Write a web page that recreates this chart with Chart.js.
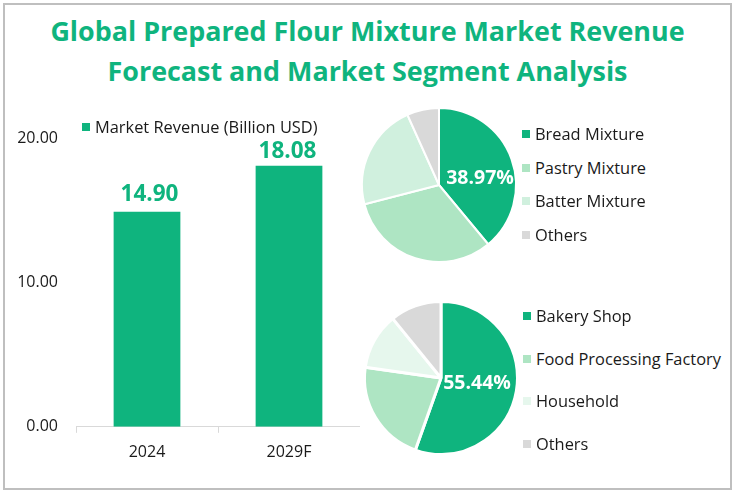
<!DOCTYPE html>
<html>
<head>
<meta charset="utf-8">
<script src="https://cdn.jsdelivr.net/npm/chart.js@4"></script>
<style>
  html, body { margin: 0; padding: 0; background: #fff; }
  #frame { position: absolute; left: 3px; top: 3px; width: 725px; height: 483px; border: 2px solid #bfbfbf; }
  #title { position: absolute; left: 0; top: 11px; width: 735px; text-align: center; color: #0fb47e;
    font: bold 26.9px/40px "Open Sans", sans-serif; }
  canvas { position: absolute; }
  .key { position: absolute; font: 16.4px/20px "Open Sans", sans-serif; color: #1a1a1a; white-space: nowrap; }
  .key i { position: absolute; left: -13px; top: 6px; width: 8px; height: 8px; }
</style>
</head>
<body>
<div id="frame"></div>
<div id="title">Global Prepared Flour Mixture Market Revenue<br>Forecast and Market Segment Analysis</div>
<canvas id="bar-chart" style="left:0;top:100px"></canvas>
<canvas id="pie-top" style="left:355px;top:101px"></canvas>
<canvas id="pie-bottom" style="left:357px;top:294px"></canvas>
<script>
const years = ['2024', '2029F']
const revenue = [14.90, 18.08]
const yTicks = [0, 10, 20]

const typeLabels = ['Bread Mixture', 'Pastry Mixture', 'Batter Mixture', 'Others']
const typeShares = [38.97, 32.0, 22.3, 6.73]
const typeColors = ['#0fb47e', '#aee5c3', '#d0f0de', '#d9d9d9']

const channelLabels = ['Bakery Shop', 'Food Processing Factory', 'Household', 'Others']
const channelShares = [55.44, 21.8, 11.9, 10.86]
const channelColors = ['#0fb47e', '#aee5c3', '#e6f7ed', '#d9d9d9']

const green = '#0fb47e'
const fontName = '"Open Sans", sans-serif'

// value labels above the bars
const barLabels = {
  id: 'barLabels',
  afterDatasetsDraw(chart) {
    const ctx = chart.ctx
    const nudgeX = [2.5, -1.5]
    const lift = [11, 8]
    ctx.save()
    ctx.font = 'bold 22.5px ' + fontName
    ctx.fillStyle = green
    ctx.textAlign = 'center'
    chart.getDatasetMeta(0).data.forEach((bar, i) => {
      ctx.fillText(revenue[i].toFixed(2), bar.x + nudgeX[i], bar.y - lift[i])
    })
    ctx.restore()
  }
}

// only the biggest slice carries a label
const sliceLabel = {
  id: 'sliceLabel',
  afterDatasetsDraw(chart) {
    const ctx = chart.ctx
    const arc = chart.getDatasetMeta(0).data[0]
    const value = chart.data.datasets[0].data[0]
    ctx.save()
    ctx.font = 'bold 19.5px ' + fontName
    ctx.fillStyle = '#fff'
    ctx.textAlign = 'center'
    ctx.textBaseline = 'middle'
    ctx.fillText(value.toFixed(2) + '%', arc.x + chart.options.labelOffset, arc.y + chart.options.labelDrop)
    ctx.restore()
  }
}

document.getElementById('bar-chart').width = 360
document.getElementById('bar-chart').height = 372

new Chart(document.getElementById('bar-chart'), {
  type: 'bar',
  data: {
    labels: years,
    datasets: [{
      label: 'Market Revenue (Billion USD)',
      data: revenue,
      backgroundColor: green,
      barPercentage: 0.47,
      categoryPercentage: 1
    }]
  },
  options: {
    responsive: false,
    animation: false,
    layout: { padding: { top: 38, right: 0, left: 0, bottom: 0 } },
    plugins: { legend: { display: false }, tooltip: { enabled: false } },
    scales: {
      x: {
        grid: { display: true, drawOnChartArea: false, drawTicks: true, tickLength: 6, color: '#d9d9d9' },
        border: { color: '#d9d9d9' },
        ticks: { color: '#1a1a1a', font: { family: fontName, size: 16 }, padding: 10, maxRotation: 0 }
      },
      y: {
        min: 0,
        max: 20,
        afterFit(scale) { scale.width = 76 },
        afterBuildTicks(scale) { scale.ticks = yTicks.map(v => ({ value: v })) },
        grid: { display: false },
        border: { display: false },
        ticks: {
          color: '#1a1a1a',
          font: { family: fontName, size: 16 },
          padding: 10,
          callback: v => v.toFixed(2)
        }
      }
    }
  },
  plugins: [barLabels]
})

function makePie(id, labels, shares, colors, gap, labelOffset, labelDrop) {
  const el = document.getElementById(id)
  el.width = 168
  el.height = 168
  new Chart(el, {
    type: 'pie',
    data: {
      labels: labels,
      datasets: [{ data: shares, backgroundColor: colors, borderColor: '#fff', borderWidth: gap }]
    },
    options: {
      responsive: false,
      animation: false,
      labelOffset: labelOffset,
      labelDrop: labelDrop,
      layout: { padding: 6 },
      plugins: { legend: { display: false }, tooltip: { enabled: false } }
    },
    plugins: [sliceLabel]
  })
}

makePie('pie-top', typeLabels, typeShares, typeColors, 2, 41, -7)
makePie('pie-bottom', channelLabels, channelShares, channelColors, 3, 36, 5)

function addKey(text, color, x, y) {
  const d = document.createElement('div')
  d.className = 'key'
  d.style.left = x + 'px'
  d.style.top = y + 'px'
  d.textContent = text
  const sw = document.createElement('i')
  sw.style.background = color
  d.appendChild(sw)
  document.body.appendChild(d)
}

addKey('Market Revenue (Billion USD)', green, 95, 117)
const topRows = [134, 168, 201, 235]
typeLabels.forEach((t, i) => addKey(t, typeColors[i], 535, topRows[i] - 10))
const bottomRows = [316, 359, 401, 444]
channelLabels.forEach((t, i) => addKey(t, channelColors[i], 536, bottomRows[i] - 10))
</script>
</body>
</html>
